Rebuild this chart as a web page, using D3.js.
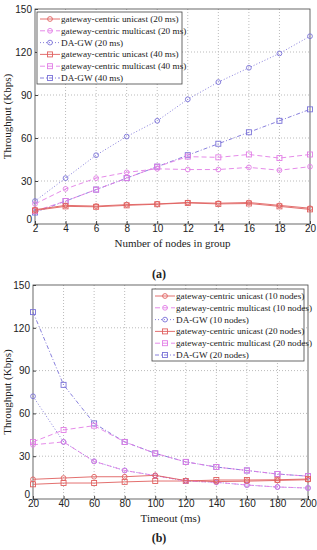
<!DOCTYPE html>
<html>
<head>
<meta charset="utf-8">
<script src="https://cdn.jsdelivr.net/npm/d3@7"></script>
<style>
body { margin: 0; background: #fff; }
svg { display: block; }
.tick text { font-family: "Liberation Sans", Arial, sans-serif; font-size: 10px; fill: #222; }
.grid line { stroke: #bbb; stroke-dasharray: 1,2; }
.lbl { font-family: "Liberation Serif", "DejaVu Serif", serif; fill: #222; }
</style>
</head>
<body>
<svg id="chart" width="317" height="550"></svg>
<script>
// panel (a): group size
var nodes = [2, 4, 6, 8, 10, 12, 14, 16, 18, 20];
var uni20 = [10, 13, 12.5, 13.5, 14, 15, 14.5, 15, 13, 11];
var multi20 = [14, 24.5, 32, 36, 38.5, 38, 38, 39.5, 37.5, 40];
var dagw20 = [16, 32, 48, 61, 72, 87, 99, 109, 119, 131];
var uni40 = [9.5, 12.3, 12, 13, 13.8, 14.7, 14, 14.3, 12.3, 10.2];
var multi40 = [9, 16, 24, 32, 40, 47, 46.5, 48.5, 46, 48.5];
var dagw40 = [8, 16, 24, 32, 40, 48, 56, 64, 72, 80];

// panel (b): timeout
var timeout = [20, 40, 60, 80, 100, 120, 140, 160, 180, 200];
var uni10 = [13.8, 14.7, 15.6, 15.6, 16.6, 12.9, 12.2, 12.5, 13, 13.5];
var multi10 = [38, 40, 26.4, 20, 16.4, 12.6, 11.7, 9.8, 8.4, 7.7];
var dagw10 = [72, 40, 26.4, 20, 16.4, 12.6, 11.7, 9.8, 8.4, 7.7];
var uniN20 = [10.3, 11.2, 11.2, 12, 12.6, 12.6, 13.3, 13.3, 13.5, 14];
var multiN20 = [40, 48.4, 51.4, 40, 32, 26, 22.4, 20, 17.5, 16];
var dagwN20 = [131, 80, 53, 40, 32, 26, 22.4, 20, 17.5, 16];

var yTicks = [0, 30, 60, 90, 120, 150];

var red = "#e0605f", mag = "#e27ee6", blue = "#7a72d8";

var svg = d3.select("#chart");

function panel(opt) {
	var x = d3.scaleLinear().domain(d3.extent(opt.xs)).range([opt.left, opt.right]);
	var y = d3.scaleLinear().domain([0, 150]).range([opt.bottom, opt.top]);
	var g = svg.append("g");

	//grid
	g.append("g").attr("class", "grid")
		.selectAll("line.v").data(opt.xs.slice(1, -1)).enter().append("line")
		.attr("x1", x).attr("x2", x).attr("y1", opt.top).attr("y2", opt.bottom);
	g.append("g").attr("class", "grid")
		.selectAll("line.h").data(yTicks.slice(1, -1)).enter().append("line")
		.attr("y1", y).attr("y2", y).attr("x1", opt.left).attr("x2", opt.right);

	g.append("rect")
		.attr("x", opt.left).attr("y", opt.top)
		.attr("width", opt.right - opt.left).attr("height", opt.bottom - opt.top)
		.attr("fill", "none").attr("stroke", "#444").attr("stroke-width", 0.8);

	//axis
	var ax = g.append("g").attr("transform", "translate(0," + opt.bottom + ")")
		.call(d3.axisBottom(x).tickValues(opt.xs).tickSize(-3).tickPadding(2));
	var ay = g.append("g").attr("transform", "translate(" + opt.left + ",0)")
		.call(d3.axisLeft(y).tickValues(yTicks).tickSize(-3).tickPadding(3));
	[ax, ay].forEach(function(a) {
		a.select(".domain").remove();
		a.selectAll(".tick line").attr("stroke", "#444");
	});
	ax.selectAll(".tick text").attr("dy", "0.62em");
	// the 0 label sits a little high, as in the original
	ay.selectAll(".tick text").filter(function(d) { return d == 0; }).attr("dy", "-0.2em");

	g.append("text").attr("class", "lbl")
		.attr("x", (opt.left + opt.right) / 2).attr("y", opt.bottom + 23)
		.attr("text-anchor", "middle").style("font-size", "11px")
		.text(opt.xTitle);
	g.append("text").attr("class", "lbl")
		.attr("transform", "translate(11," + ((opt.top + opt.bottom) / 2) + ") rotate(-90)")
		.attr("text-anchor", "middle").style("font-size", "11px")
		.text("Throughput (Kbps)");
	g.append("text").attr("class", "lbl")
		.attr("x", 159).attr("y", opt.caption)
		.attr("text-anchor", "middle").style("font-size", "12px").style("font-weight", "bold")
		.text(opt.tag);

	var line = d3.line()
		.x(function(d, i) { return x(opt.xs[i]); })
		.y(function(d) { return y(d); });

	// draw in reverse so unicast ends up on top
	opt.series.slice().reverse().forEach(function(s) {
		g.append("path").datum(s.data)
			.attr("d", line).attr("fill", "none")
			.attr("stroke", s.color).attr("stroke-width", 0.9)
			.attr("stroke-dasharray", s.dash);
		marks(g, s, s.data.map(function(d, i) { return [x(opt.xs[i]), y(d)]; }));
	});

	//legend
	var lg = g.append("g").attr("transform", "translate(" + opt.lx + "," + opt.ly + ")");
	lg.append("rect").attr("width", opt.lw).attr("height", 72)
		.attr("fill", "#fff").attr("stroke", "#444").attr("stroke-width", 0.8);
	opt.series.forEach(function(s, i) {
		var ry = 7 + i * 11.8;
		lg.append("line").attr("x1", 3).attr("x2", 23).attr("y1", ry).attr("y2", ry)
			.attr("stroke", s.color).attr("stroke-width", 0.9).attr("stroke-dasharray", s.dash);
		marks(lg, s, [[13, ry]]);
		lg.append("text").attr("class", "lbl")
			.attr("x", 24).attr("y", ry + 3).style("font-size", "9.2px")
			.text(s.name);
	});
}

function marks(g, s, pts) {
	if (s.shape == "circle") {
		g.selectAll(null).data(pts).enter().append("circle")
			.attr("cx", function(p) { return p[0]; }).attr("cy", function(p) { return p[1]; })
			.attr("r", 2.4).attr("fill", "none").attr("stroke", s.color).attr("stroke-width", 0.9);
	} else {
		g.selectAll(null).data(pts).enter().append("rect")
			.attr("x", function(p) { return p[0] - 2.5; }).attr("y", function(p) { return p[1] - 2.5; })
			.attr("width", 5).attr("height", 5)
			.attr("fill", "none").attr("stroke", s.color).attr("stroke-width", 0.9);
	}
}

panel({
	xs: nodes, left: 35, right: 310, top: 9, bottom: 224,
	xTitle: "Number of nodes in group", tag: "(a)", caption: 278,
	lx: 37, ly: 12, lw: 145,
	series: [
		{ name: "gateway-centric unicast (20 ms)", data: uni20, color: red, dash: null, shape: "circle" },
		{ name: "gateway-centric multicast (20 ms)", data: multi20, color: mag, dash: "5,3", shape: "circle" },
		{ name: "DA-GW (20 ms)", data: dagw20, color: blue, dash: "1,2", shape: "circle" },
		{ name: "gateway-centric unicast (40 ms)", data: uni40, color: red, dash: null, shape: "square" },
		{ name: "gateway-centric multicast (40 ms)", data: multi40, color: mag, dash: "5,3", shape: "square" },
		{ name: "DA-GW (40 ms)", data: dagw40, color: blue, dash: "4,2,1,2", shape: "square" }
	]
});

panel({
	xs: timeout, left: 33, right: 308, top: 285, bottom: 499,
	xTitle: "Timeout (ms)", tag: "(b)", caption: 542,
	lx: 152, ly: 289, lw: 152,
	series: [
		{ name: "gateway-centric unicast (10 nodes)", data: uni10, color: red, dash: null, shape: "circle" },
		{ name: "gateway-centric multicast (10 nodes)", data: multi10, color: mag, dash: "5,3", shape: "circle" },
		{ name: "DA-GW (10 nodes)", data: dagw10, color: blue, dash: "1,2", shape: "circle" },
		{ name: "gateway-centric unicast (20 nodes)", data: uniN20, color: red, dash: null, shape: "square" },
		{ name: "gateway-centric multicast (20 nodes)", data: multiN20, color: mag, dash: "5,3", shape: "square" },
		{ name: "DA-GW (20 nodes)", data: dagwN20, color: blue, dash: "4,2,1,2", shape: "square" }
	]
});
</script>
</body>
</html>
